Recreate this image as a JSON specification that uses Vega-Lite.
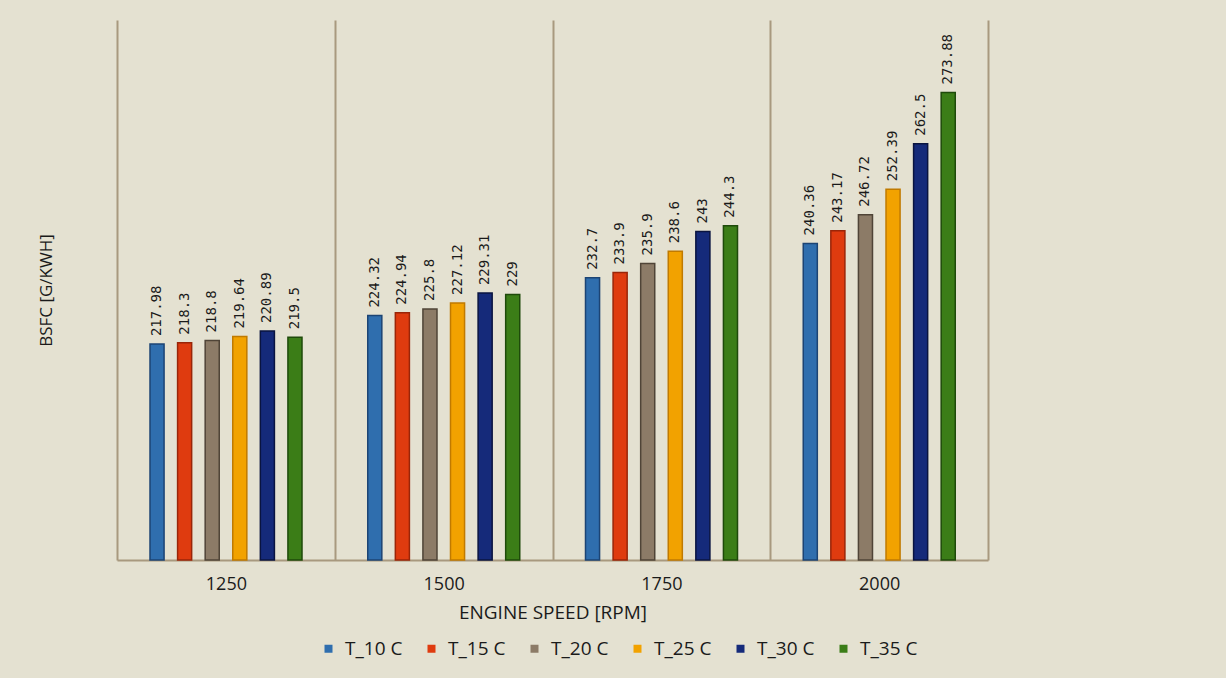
{
  "$schema": "https://vega.github.io/schema/vega-lite/v6.json",
  "width": 871,
  "height": 540,
  "autosize": {"type": "none"},
  "padding": {"left": 117, "top": 20, "right": 238, "bottom": 118},
  "background": "#E4E1D1",
  "config": {"view": {"stroke": null}},
  "data": {"values": [
    {"rpm": "1250", "series": "T_10 C", "bsfc": 217.98},
    {"rpm": "1250", "series": "T_15 C", "bsfc": 218.3},
    {"rpm": "1250", "series": "T_20 C", "bsfc": 218.8},
    {"rpm": "1250", "series": "T_25 C", "bsfc": 219.64},
    {"rpm": "1250", "series": "T_30 C", "bsfc": 220.89},
    {"rpm": "1250", "series": "T_35 C", "bsfc": 219.5},
    {"rpm": "1500", "series": "T_10 C", "bsfc": 224.32},
    {"rpm": "1500", "series": "T_15 C", "bsfc": 224.94},
    {"rpm": "1500", "series": "T_20 C", "bsfc": 225.8},
    {"rpm": "1500", "series": "T_25 C", "bsfc": 227.12},
    {"rpm": "1500", "series": "T_30 C", "bsfc": 229.31},
    {"rpm": "1500", "series": "T_35 C", "bsfc": 229},
    {"rpm": "1750", "series": "T_10 C", "bsfc": 232.7},
    {"rpm": "1750", "series": "T_15 C", "bsfc": 233.9},
    {"rpm": "1750", "series": "T_20 C", "bsfc": 235.9},
    {"rpm": "1750", "series": "T_25 C", "bsfc": 238.6},
    {"rpm": "1750", "series": "T_30 C", "bsfc": 243},
    {"rpm": "1750", "series": "T_35 C", "bsfc": 244.3},
    {"rpm": "2000", "series": "T_10 C", "bsfc": 240.36},
    {"rpm": "2000", "series": "T_15 C", "bsfc": 243.17},
    {"rpm": "2000", "series": "T_20 C", "bsfc": 246.72},
    {"rpm": "2000", "series": "T_25 C", "bsfc": 252.39},
    {"rpm": "2000", "series": "T_30 C", "bsfc": 262.5},
    {"rpm": "2000", "series": "T_35 C", "bsfc": 273.88}
  ]},
  "encoding": {
    "x": {
      "field": "rpm", "type": "nominal", "sort": ["1250", "1500", "1750", "2000"],
      "scale": {"paddingInner": 0, "paddingOuter": 0},
      "axis": {
        "title": "ENGINE SPEED [RPM]", "tickBand": "extent", "grid": true,
        "gridColor": "#A8997F", "gridWidth": 2, "ticks": false,
        "domainColor": "#A8997F", "domainWidth": 2, "labelAngle": 0,
        "labelFont": "Open Sans", "labelFontSize": 18, "labelColor": "#1a1a1a", "labelPadding": 15,
        "titleFont": "Open Sans", "titleFontSize": 19, "titleFontWeight": "normal",
        "titleColor": "#1a1a1a", "titlePadding": 10
      }
    },
    "xOffset": {
      "field": "series", "type": "nominal",
      "sort": ["T_10 C", "T_15 C", "T_20 C", "T_25 C", "T_30 C", "T_35 C"],
      "scale": {"range": [33, 185], "paddingInner": 0.49, "paddingOuter": 0}
    },
    "y": {
      "field": "bsfc", "type": "quantitative",
      "scale": {"domain": [170, 290], "zero": false, "nice": false},
      "axis": {
        "title": "BSFC [G/KWH]", "labels": false, "ticks": false, "grid": false, "domain": false,
        "titleFont": "Open Sans", "titleFontSize": 17, "titleFontWeight": "normal",
        "titleColor": "#1a1a1a", "titlePadding": 62
      }
    }
  },
  "layer": [
    {
      "mark": {"type": "bar", "strokeWidth": 1.5},
      "encoding": {
        "y2": {"datum": 170},
        "color": {
          "field": "series", "type": "nominal",
          "sort": ["T_10 C", "T_15 C", "T_20 C", "T_25 C", "T_30 C", "T_35 C"],
          "scale": {"range": ["#2F6EAE", "#DF3B0F", "#8C7B67", "#F2A200", "#152A7A", "#3B7D17"]},
          "legend": {
            "title": null, "orient": "none", "legendX": 202, "legendY": 619,
            "direction": "horizontal", "columns": 6, "gridAlign": "all",
            "symbolType": "square", "symbolSize": 64, "symbolStrokeWidth": 0,
            "labelFont": "Open Sans", "labelFontSize": 19, "labelColor": "#1a1a1a",
            "labelOffset": 7, "columnPadding": 19, "padding": 0, "labelLimit": 200
          }
        },
        "stroke": {
          "field": "series", "type": "nominal",
          "sort": ["T_10 C", "T_15 C", "T_20 C", "T_25 C", "T_30 C", "T_35 C"],
          "scale": {"range": ["#1C4474", "#9A2508", "#4F4437", "#C07A00", "#0A1440", "#1E4A0A"]},
          "legend": null
        }
      }
    },
    {
      "mark": {"type": "text", "angle": -90, "align": "left", "baseline": "middle", "dx": 8,
               "font": "DejaVu Sans Mono", "fontSize": 14, "color": "#1a1a1a"},
      "encoding": {"text": {"field": "bsfc", "type": "nominal"}}
    }
  ]
}
